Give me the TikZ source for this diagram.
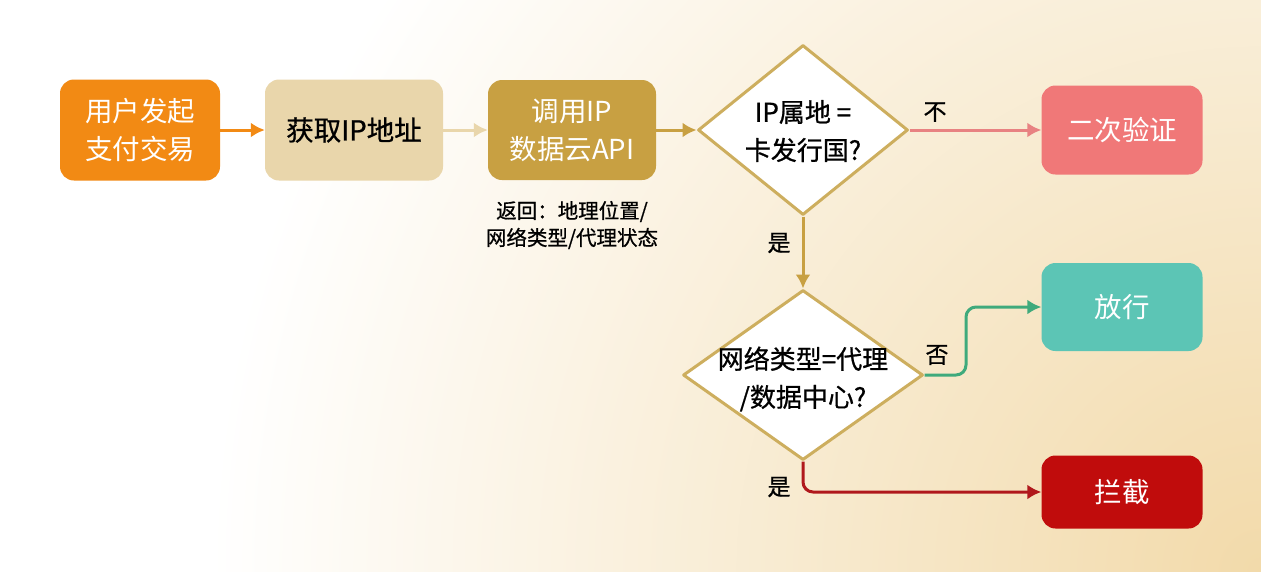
\documentclass[tikz,border=0pt]{standalone}
\usepackage{fontspec}
\newfontfamily\cjk{Noto Sans CJK SC}
\newfontfamily\cjkmed[FakeBold=0.8]{Noto Sans CJK SC}
\usetikzlibrary{arrows.meta}
\usetikzlibrary{shapes.geometric}

\definecolor{bgwarm}{HTML}{F2DAAA}
\definecolor{startorange}{HTML}{F28A14}
\definecolor{lighttan}{HTML}{E9D6AB}
\definecolor{gold}{HTML}{C8A042}
\definecolor{diamondgold}{HTML}{CDAE5E}
\definecolor{pinkred}{HTML}{F07878}
\definecolor{pinkline}{HTML}{E88282}
\definecolor{teal}{HTML}{5CC5B5}
\definecolor{greenline}{HTML}{3FAA7C}
\definecolor{darkred}{HTML}{C00C0C}
\definecolor{darkredline}{HTML}{B0181C}

\begin{document}
\begin{tikzpicture}[x=1pt, y=-1pt,
	box/.style={rectangle, rounded corners=14pt, align=center, inner sep=0pt,
		font=\cjk\fontsize{27.5}{38}\selectfont},
	decision/.style={diamond, draw=diamondgold, line width=3pt, fill=white,
		inner sep=0pt, line join=round},
	dtext/.style={align=center, font=\cjkmed\fontsize{26}{38}\selectfont},
	lbl/.style={font=\cjkmed\fontsize{23}{26}\selectfont},
	flow/.style={line width=3pt, -{Latex[length=14pt, width=15pt]}}
]

	% background
	\fill[white] (0,0) rectangle (1261,571);
	\begin{scope}
		\clip (0,0) rectangle (1261,571);
		\shade[inner color=bgwarm, outer color=white] (1261,571) circle (1050pt);
	\end{scope}
	\useasboundingbox (0,0) rectangle (1261,571);

	% boxes
	\node[box, fill=startorange, text=white, minimum width=160pt, minimum height=101pt]
		(start) at (140,130) {用户发起\\支付交易};
	\node[box, fill=lighttan, text=black, minimum width=178pt, minimum height=101pt,
		font=\cjkmed\fontsize{27.5}{38}\selectfont]
		(getip) at (354,130) {获取IP地址};
	\node[box, fill=gold, text=white, minimum width=168pt, minimum height=100pt]
		(callapi) at (572,130) {调用IP\\数据云API};
	\node[align=center, font=\cjkmed\fontsize{20.5}{27}\selectfont]
		(note) at (572,225) {返回：地理位置/\\网络类型/代理状态};

	% decisions
	\node[decision, minimum width=210pt, minimum height=170pt] (geo) at (803,130) {};
	\node[dtext] (geotext) at (803,131) {IP属地 =\\卡发行国?};
	\node[decision, minimum width=240pt, minimum height=170pt] (net) at (803,375) {};
	\node[dtext] (nettext) at (803,379) {网络类型=代理\\/数据中心?};

	% results
	\node[box, fill=pinkred, text=white, minimum width=161pt, minimum height=89pt]
		(verify) at (1122,130) {二次验证};
	\node[box, fill=teal, text=white, minimum width=161pt, minimum height=88pt]
		(pass) at (1122,307) {放行};
	\node[box, fill=darkred, text=white, minimum width=161pt, minimum height=73pt]
		(block) at (1122,492) {拦截};

	% connectors
	\draw[flow, startorange] (start) -- (getip);
	\draw[flow, lighttan] (getip) -- (callapi);
	\draw[flow, gold] (callapi) -- (geo.west);
	\draw[flow, pinkline] (geo.east) -- (verify);
	\draw[flow, gold] (geo.south) -- (net.north);

	\coordinate (bend) at (966,375);
	\draw[flow, greenline, rounded corners=10pt] (net.east) -- (bend) |- (pass.west);
	\draw[flow, darkredline, rounded corners=10pt] (net.south) |- (block.west);

	% labels
	\node[lbl] (no1) at (935,112) {不};
	\node[lbl] (yes1) at (779,243) {是};
	\node[lbl] (no2) at (937,355) {否};
	\node[lbl] (yes2) at (779,487) {是};

\end{tikzpicture}
\end{document}
